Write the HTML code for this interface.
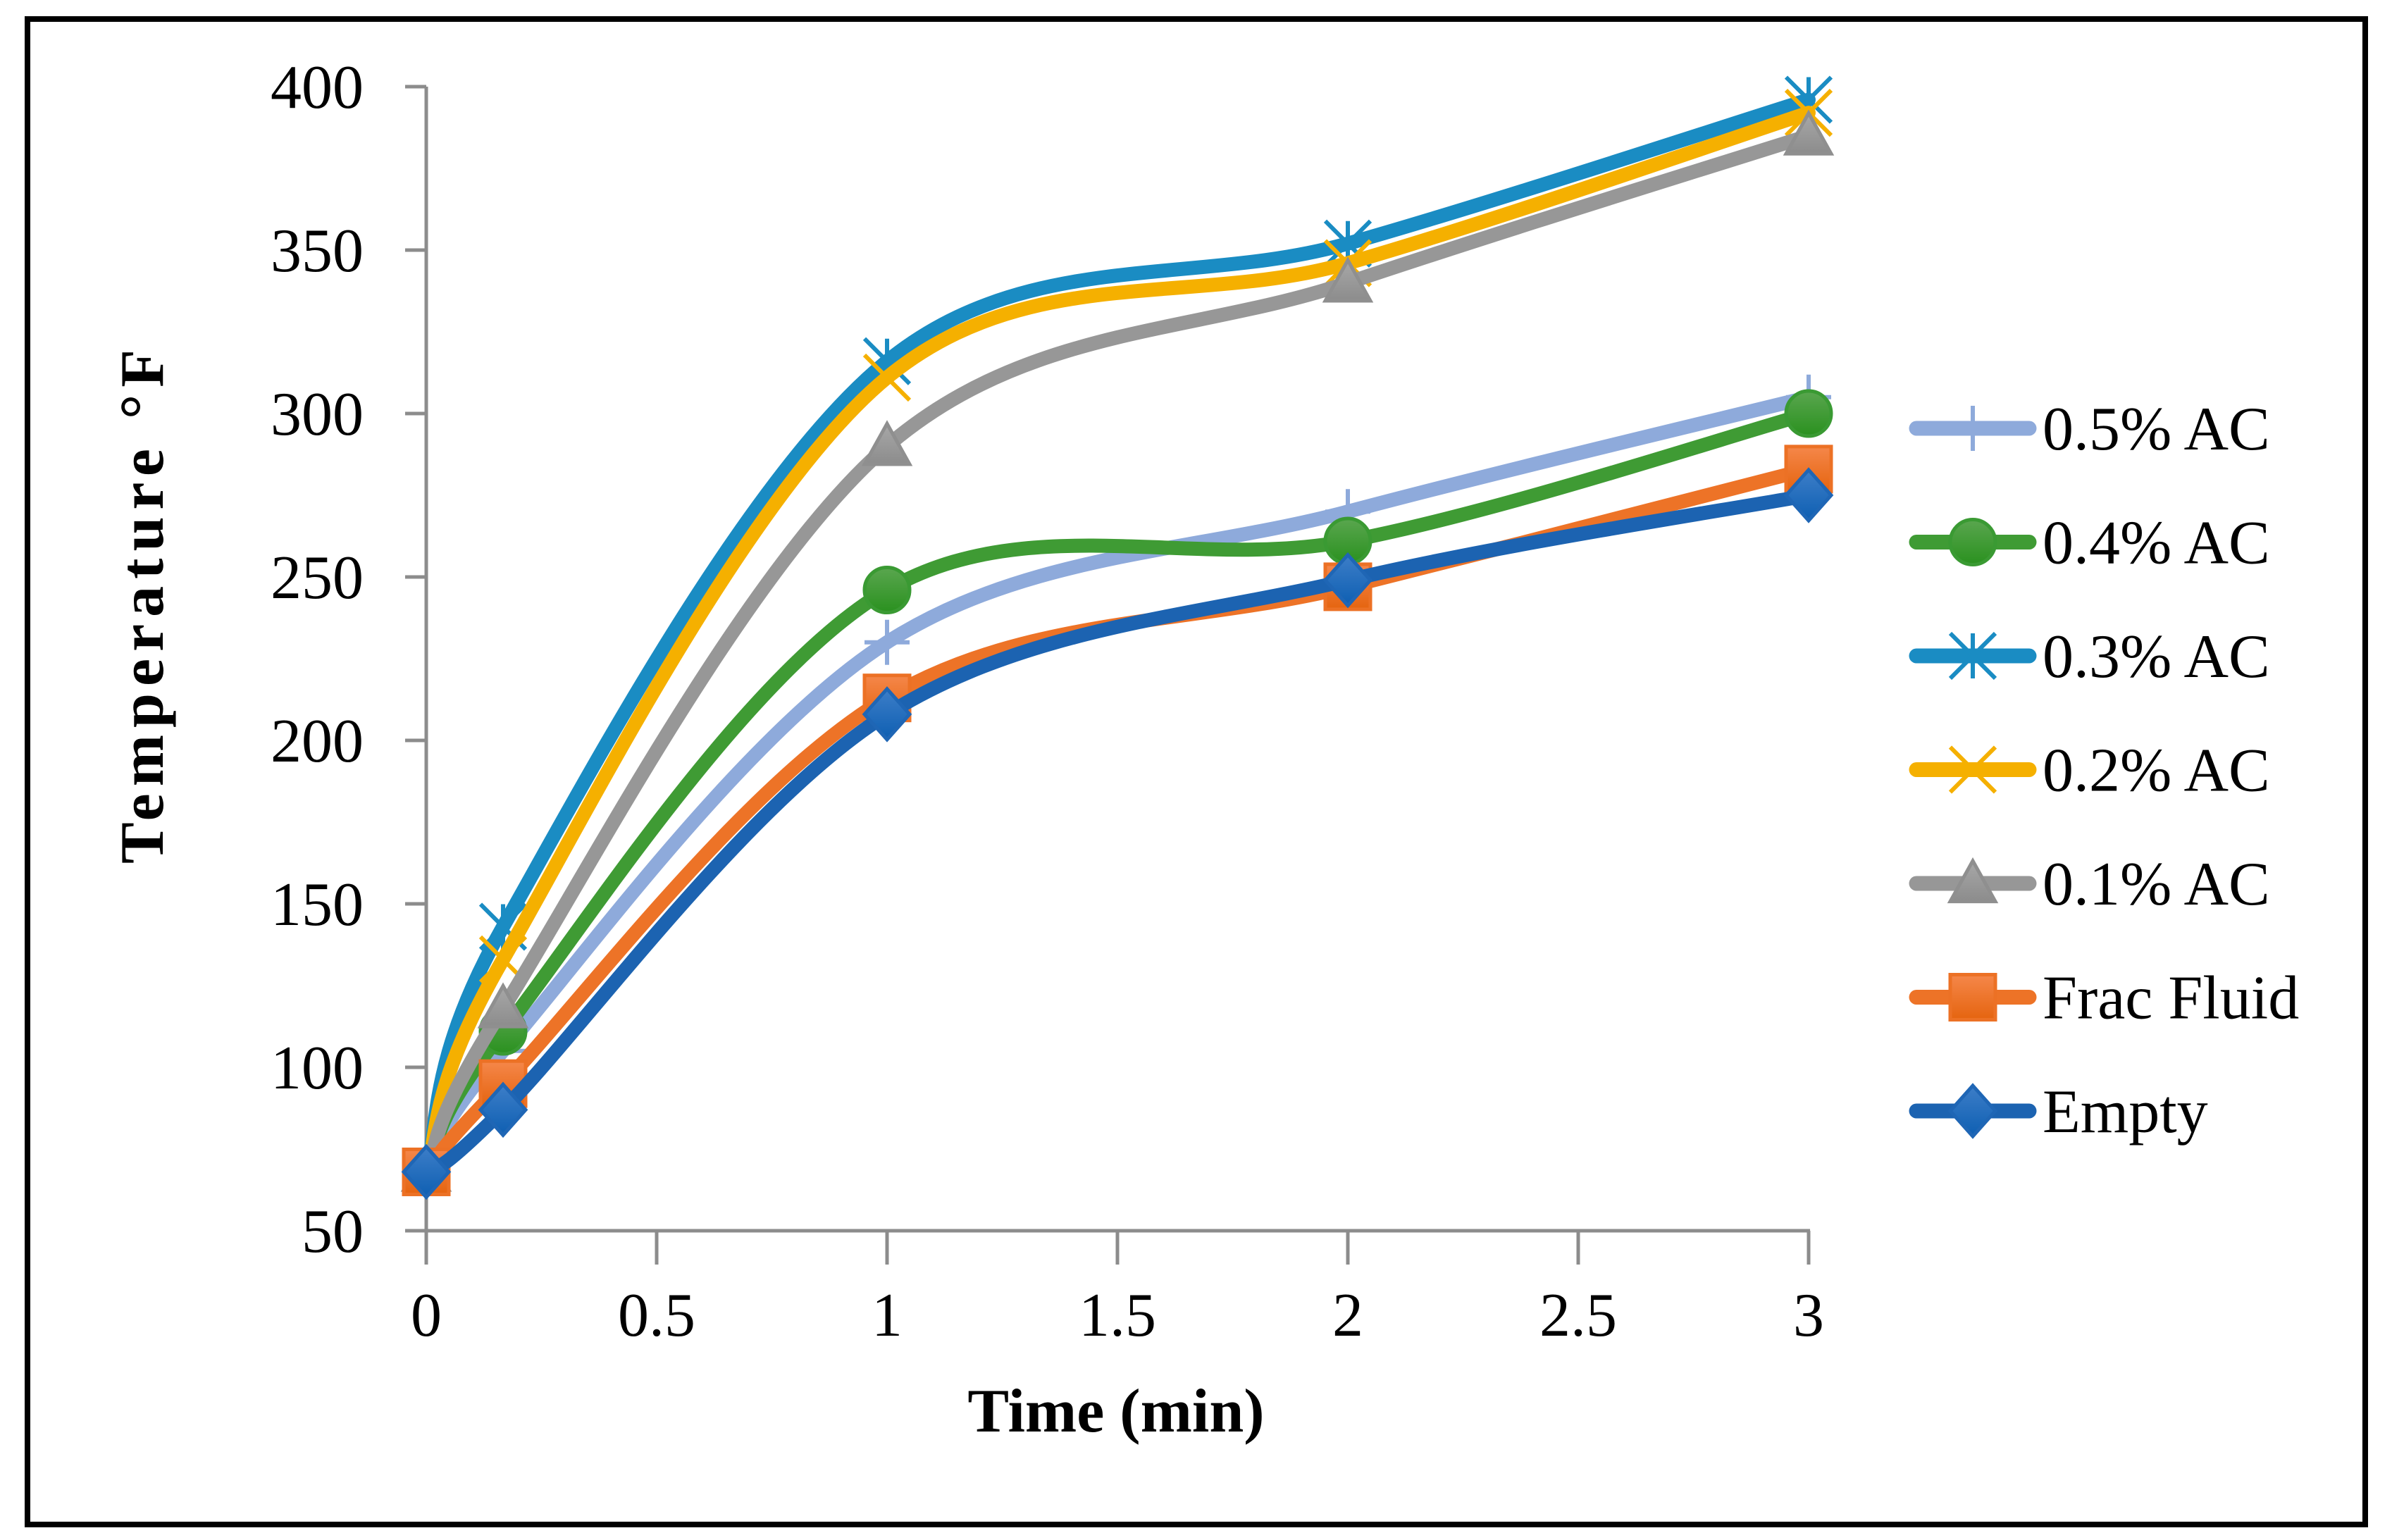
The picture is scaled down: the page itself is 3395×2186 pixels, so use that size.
<!DOCTYPE html>
<html><head><meta charset="utf-8"><style>
html,body{margin:0;padding:0;background:#fff;}
svg{display:block;}
text{font-family:"Liberation Serif",serif;fill:#000;}
</style></head><body>
<svg id="chart" width="3395" height="2186" viewBox="0 0 3395 2186" xmlns="http://www.w3.org/2000/svg">
<defs>
<linearGradient id="gO" x1="0" y1="0" x2="0" y2="1"><stop offset="0" stop-color="#f5874a"/><stop offset="1" stop-color="#e5640f"/></linearGradient>
<linearGradient id="gB" x1="0" y1="0" x2="0" y2="1"><stop offset="0" stop-color="#3d7ec8"/><stop offset="1" stop-color="#0e5fb2"/></linearGradient>
<linearGradient id="gG" x1="0" y1="0" x2="0" y2="1"><stop offset="0" stop-color="#5aa64f"/><stop offset="1" stop-color="#2a911f"/></linearGradient>
<linearGradient id="gA" x1="0" y1="0" x2="0" y2="1"><stop offset="0" stop-color="#a8a8a8"/><stop offset="1" stop-color="#8c8c8c"/></linearGradient>
</defs>
<rect x="39" y="27" width="3318" height="2137" fill="none" stroke="#000" stroke-width="8"/>
<g id="axes"></g>
<g id="series"></g>
<g id="legend"></g>
<text x="1584" y="2032" font-size="88" font-weight="bold" text-anchor="middle">Time (min)</text>
<text x="0" y="0" font-size="88" font-weight="bold" text-anchor="middle" textLength="730" lengthAdjust="spacing" transform="translate(231,861) rotate(-90)">Temperature °F</text>
</svg>
<script>
const times = [0, 1/6, 1, 2, 3];
const seriesNames = ["0.5% AC","0.4% AC","0.3% AC","0.2% AC","0.1% AC","Frac Fluid","Empty"];
const s05 = [68, 105, 230, 270, 305];
const s04 = [68, 111, 246, 261, 300];
const s03 = [68, 143, 316, 352, 396];
const s02 = [68, 133, 311, 346, 392];
const s01 = [68, 118, 290, 340, 385];
const sFrac = [68, 95, 213, 247, 283];
const sEmpty = [68, 87, 208, 249, 275];
const yTicks = [50,100,150,200,250,300,350,400];
const xTicks = [0,0.5,1,1.5,2,2.5,3];
const xTickLabels = ["0","0.5","1","1.5","2","2.5","3"];

const NS="http://www.w3.org/2000/svg";
const X0=605, XPU=654, Y50=1747, YPU=232/50;
function sx(v){return X0+v*XPU;}
function sy(v){return Y50-(v-50)*YPU;}
function mk(tag,attrs,parent){const e=document.createElementNS(NS,tag);for(const k in attrs)e.setAttribute(k,attrs[k]);parent.appendChild(e);return e;}

const axes=document.getElementById('axes');
const GR="#8c8c8c";
let e;
e=mk('line',{x1:sx(0),y1:sy(400),x2:sx(0),y2:sy(50)+48,stroke:GR,'stroke-width':5},axes);


e=mk('line',{x1:sx(0)-30,y1:sy(50),x2:sx(3)+2,y2:sy(50),stroke:GR,'stroke-width':5},axes);


yTicks.forEach(t=>{
  e=mk('line',{x1:sx(0)-30,y1:sy(t),x2:sx(0),y2:sy(t),stroke:GR,'stroke-width':5},axes);
  
  
  e=mk('text',{x:516,y:sy(t)+30,'font-size':88,'text-anchor':'end'},axes);
  e.textContent=String(t);
  
  
});
xTicks.forEach((t,i)=>{
  e=mk('line',{x1:sx(t),y1:sy(50),x2:sx(t),y2:sy(50)+48,stroke:GR,'stroke-width':5},axes);
  
  
  e=mk('text',{x:sx(t),y:1896,'font-size':88,'text-anchor':'middle'},axes);
  e.textContent=xTickLabels[i];
  
  
});

function smoothPath(pts){
  let d=`M${pts[0][0]},${pts[0][1]}`;
  for(let i=0;i<pts.length-1;i++){
    const p0=pts[i-1]||pts[i],p1=pts[i],p2=pts[i+1],p3=pts[i+2]||p2;
    const c1=[p1[0]+(p2[0]-p0[0])/6,p1[1]+(p2[1]-p0[1])/6];
    const c2=[p2[0]-(p3[0]-p1[0])/6,p2[1]-(p3[1]-p1[1])/6];
    d+=` C${c1[0]},${c1[1]} ${c2[0]},${c2[1]} ${p2[0]},${p2[1]}`;
  }
  return d;
}
function marker(type,cx,cy,color,g){
  const r=32;
  if(type==='plus'){
    return mk('path',{d:`M${cx},${cy-r} V${cy+r} M${cx-r},${cy} H${cx+r}`,stroke:color,'stroke-width':6,fill:'none'},g);
  }
  if(type==='circle') return mk('circle',{cx,cy,r:r,fill:'url(#gG)',stroke:'#3a9a33','stroke-width':5},g);
  if(type==='star') return mk('path',{d:`M${cx-r},${cy-r} L${cx+r},${cy+r} M${cx+r},${cy-r} L${cx-r},${cy+r} M${cx},${cy-r} V${cy+r}`,stroke:color,'stroke-width':6,fill:'none'},g);
  if(type==='x') return mk('path',{d:`M${cx-r},${cy-r} L${cx+r},${cy+r} M${cx+r},${cy-r} L${cx-r},${cy+r}`,stroke:color,'stroke-width':6,fill:'none'},g);
  if(type==='tri') return mk('path',{d:`M${cx},${cy-r} L${cx+r},${cy+r*0.8} L${cx-r},${cy+r*0.8} Z`,fill:'url(#gA)',stroke:'#8f8f8f','stroke-width':5},g);
  if(type==='square') return mk('rect',{x:cx-r,y:cy-r,width:2*r,height:2*r,fill:'url(#gO)',stroke:'#ec7125','stroke-width':5},g);
  if(type==='diamond') return mk('path',{d:`M${cx},${cy-r-4} L${cx+r},${cy} L${cx},${cy+r+4} L${cx-r},${cy} Z`,fill:'url(#gB)',stroke:'#1f66b5','stroke-width':5},g);
}
const allData=[s05,s04,s03,s02,s01,sFrac,sEmpty];
const colors=["#8eaadb","#3f9b34","#1a8cc3","#f5b000","#979797","#ed7327","#1c63b1"];
const markers=["plus","circle","star","x","tri","square","diamond"];
const keys=["0-5-ac","0-4-ac","0-3-ac","0-2-ac","0-1-ac","frac-fluid","empty"];
const sg=document.getElementById('series');
allData.forEach((vals,i)=>{
  const g=mk('g',{},sg);
  
  
  const pts=vals.map((v,j)=>[sx(times[j]),sy(v)]);
  const p=mk('path',{d:smoothPath(pts),fill:'none',stroke:colors[i],'stroke-width':20,'stroke-linecap':'round','stroke-linejoin':'round'},g);
  
  
  pts.forEach(pt=>{
    const m=marker(markers[i],pt[0],pt[1],colors[i],g);
    
    
  });
});
const lg=document.getElementById('legend');
seriesNames.forEach((n,i)=>{
  const y=608+i*161.5;
  const g=mk('g',{},lg);
  
  
  mk('line',{x1:2720,y1:y,x2:2880,y2:y,stroke:colors[i],'stroke-width':21,'stroke-linecap':'round'},g);
  marker(markers[i],2800,y,colors[i],g);
  const t=mk('text',{x:2899,y:y+30,'font-size':88},g);
  t.textContent=n;
});
</script>
</body></html>
